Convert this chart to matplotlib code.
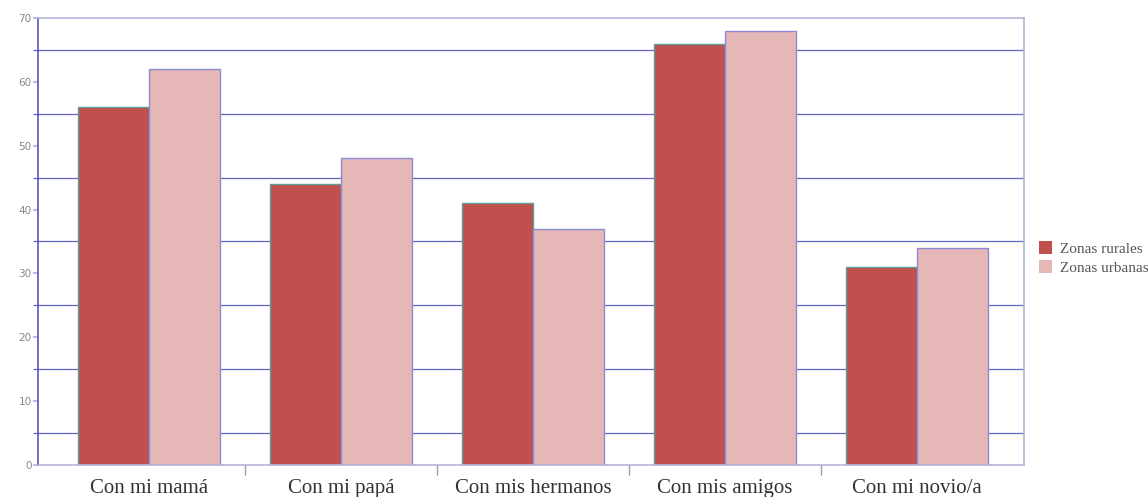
import matplotlib.pyplot as plt
import numpy as np
from matplotlib.ticker import MultipleLocator, FixedLocator

categories = ["Con mi mamá", "Con mi papá", "Con mis hermanos", "Con mis amigos", "Con mi novio/a"]
rurales = [56, 44, 41, 66, 31]
urbanas = [62, 48, 37, 68, 34]

fig = plt.figure(figsize=(11.48, 4.97), dpi=100)
ax = fig.add_axes([0.0331, 0.0644, 0.8589, 0.8994])

x = np.arange(len(categories))
w = 0.37

# horizontal lines only at the odd fives
for y in range(5, 70, 10):
    ax.axhline(y, color='#6464c4', linewidth=0.9, zorder=1)

ax.bar(x - w / 2, rurales, w, color='#c0504d', edgecolor='#5f9e94', linewidth=1, label="Zonas rurales", zorder=2)
ax.bar(x + w / 2, urbanas, w, color='#e5b8b7', edgecolor='#8a8ad8', linewidth=1, label="Zonas urbanas", zorder=2)

ax.set_xlim(-0.578, 4.557)
ax.set_ylim(0, 70)

# y axis: labelled ticks every 10, longer ones at the fives
ax.yaxis.set_major_locator(MultipleLocator(10))
ax.yaxis.set_minor_locator(FixedLocator([5, 15, 25, 35, 45, 55, 65]))
ax.tick_params(axis='y', which='major', length=3.6, width=1.2, color='#b0b0dc',
               labelsize=7.5, labelcolor='#888888', pad=1)
ax.tick_params(axis='y', which='minor', length=3.6, width=0.9, color='#6464c4')
for lbl in ax.get_yticklabels():
    lbl.set_family('DejaVu Sans')

# x axis: separators between groups, labels centred under the bars
ax.set_xticks(x)
ax.set_xticklabels(categories, family='Liberation Serif', fontsize=15, color='#333333')
ax.tick_params(axis='x', which='major', length=0, pad=10)
ax.xaxis.set_minor_locator(FixedLocator([0.5, 1.5, 2.5, 3.5]))
ax.tick_params(axis='x', which='minor', length=7.5, width=1, color='#9a9ac8')

ax.spines['left'].set_color('#4848b8')
ax.spines['left'].set_linewidth(1.1)
for side in ['bottom', 'top', 'right']:
    ax.spines[side].set_color('#b4b4dc')
    ax.spines[side].set_linewidth(1.2)

leg = ax.legend(loc='center left', bbox_to_anchor=(1.0, 0.463), frameon=False,
                prop={'family': 'Liberation Serif', 'size': 11},
                handlelength=0.85, handleheight=0.85, handletextpad=0.5,
                labelspacing=0.3, borderaxespad=0.6)
for t in leg.get_texts():
    t.set_color('#555555')
for h in leg.legend_handles:
    h.set_edgecolor('none')

plt.savefig('out.png', dpi=100)
